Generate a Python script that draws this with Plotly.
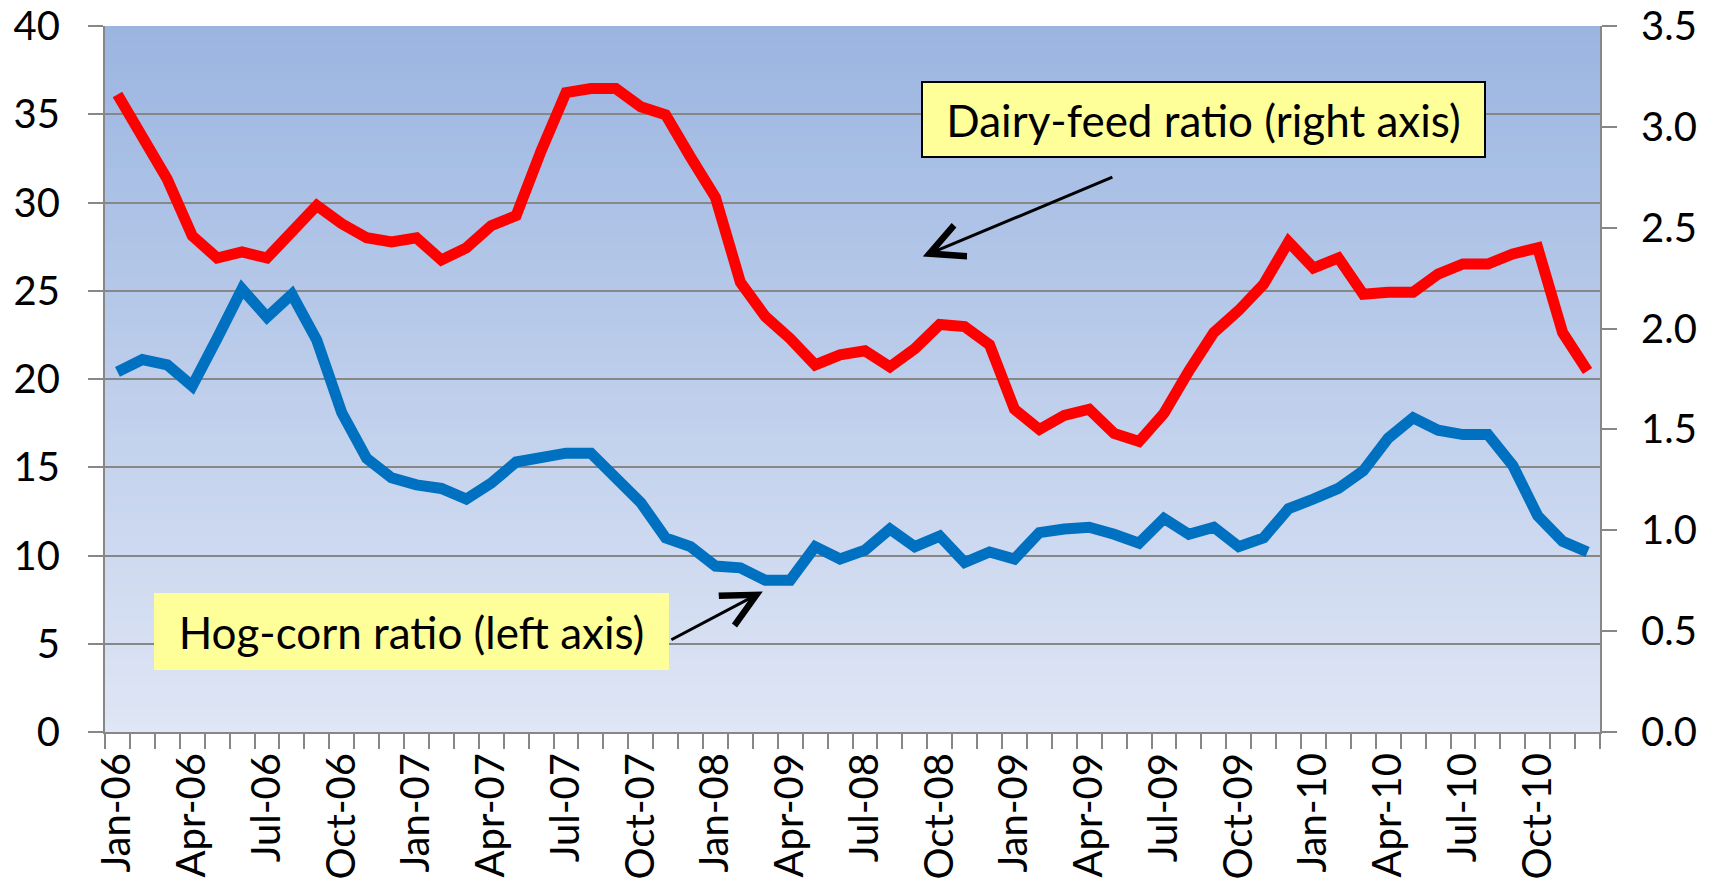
import plotly.graph_objects as go

months = [f"{m}-{y:02d}" for y in range(6, 11) for m in
          ["Jan", "Feb", "Mar", "Apr", "May", "Jun", "Jul", "Aug", "Sep", "Oct", "Nov", "Dec"]]

hog_corn = [20.4, 21.1, 20.8, 19.6, 22.3, 25.1, 23.5, 24.8, 22.2, 18.1, 15.5, 14.4,
            14.0, 13.8, 13.2, 14.1, 15.3, 15.55, 15.8, 15.8, 14.4, 13.0, 11.0, 10.5,
            9.4, 9.3, 8.6, 8.6, 10.5, 9.8, 10.3, 11.5, 10.5, 11.1, 9.6, 10.2,
            9.8, 11.3, 11.5, 11.6, 11.2, 10.7, 12.1, 11.2, 11.6, 10.5, 11.0, 12.65,
            13.2, 13.8, 14.8, 16.65, 17.8, 17.1, 16.85, 16.85, 15.1, 12.25, 10.8, 10.2]

dairy_feed = [3.16, 2.94, 2.74, 2.46, 2.35, 2.38, 2.35, 2.48, 2.61, 2.52, 2.45, 2.43,
              2.45, 2.34, 2.40, 2.51, 2.56, 2.88, 3.17, 3.19, 3.19, 3.10, 3.06, 2.85,
              2.65, 2.23, 2.06, 1.95, 1.82, 1.87, 1.89, 1.81, 1.90, 2.02, 2.01, 1.92,
              1.60, 1.50, 1.57, 1.60, 1.48, 1.44, 1.58, 1.79, 1.98, 2.09, 2.22, 2.43,
              2.30, 2.35, 2.17, 2.18, 2.18, 2.27, 2.32, 2.32, 2.37, 2.40, 1.98, 1.79]

tick_labels = ["Jan-06", "Apr-06", "Jul-06", "Oct-06", "Jan-07", "Apr-07", "Jul-07",
               "Oct-07", "Jan-08", "Apr-09", "Jul-08", "Oct-08", "Jan-09", "Apr-09",
               "Jul-09", "Oct-09", "Jan-10", "Apr-10", "Jul-10", "Oct-10"]

left_ticks = [0, 5, 10, 15, 20, 25, 30, 35, 40]
right_ticks = [0.0, 0.5, 1.0, 1.5, 2.0, 2.5, 3.0, 3.5]

x = list(range(len(months)))
tick_pos = list(range(0, len(months), 3))

FONT = "Lato, 'Open Sans', sans-serif"
GRAY = "#878787"

fig = go.Figure()
fig.add_trace(go.Scatter(x=x, y=hog_corn, mode="lines", name="Hog-corn ratio",
                         line=dict(color="#0070C0", width=11), yaxis="y"))
fig.add_trace(go.Scatter(x=x, y=dairy_feed, mode="lines", name="Dairy-feed ratio",
                         line=dict(color="#FF0000", width=11), yaxis="y2"))

# vertical gradient background
shapes = []
n = 90
top = (155, 181, 225)
bot = (223, 230, 245)
for k in range(n):
    t = (k + 0.5) / n
    c = tuple(round(top[j] + (bot[j] - top[j]) * t) for j in range(3))
    shapes.append(dict(type="rect", xref="paper", yref="paper", x0=0, x1=1,
                       y0=max(0, 1 - (k + 1) / n - 0.002), y1=1 - k / n,
                       fillcolor=f"rgb{c}", line=dict(width=0), layer="below"))

fig.update_layout(
    width=1717, height=895,
    margin=dict(l=105, r=117, t=26, b=163, autoexpand=False),
    paper_bgcolor="white", plot_bgcolor="white",
    showlegend=False,
    shapes=shapes,
    font=dict(family=FONT, size=40, color="black"),
    xaxis=dict(range=[-0.5, len(months) - 0.5], tickmode="array", tickvals=tick_pos,
               ticktext=tick_labels, tickangle=-90, ticks="", showgrid=False,
               showline=True, linecolor=GRAY, linewidth=2, zeroline=False,
               automargin=False, ticklabelstandoff=3, tickfont=dict(size=40),
               ticklabeloverflow="allow",
               minor=dict(tickmode="linear", tick0=-0.5, dtick=1, ticks="outside",
                          ticklen=15, tickcolor=GRAY, tickwidth=2, showgrid=False)),
    yaxis=dict(range=[0, 40], tickmode="array", tickvals=left_ticks, ticks="outside",
               ticklen=15, tickcolor=GRAY, tickwidth=2, showline=True, linecolor=GRAY,
               linewidth=2, showgrid=True, gridcolor=GRAY, gridwidth=2, zeroline=False,
               automargin=False, ticklabelstandoff=20, tickfont=dict(size=40),
               ticklabeloverflow="allow"),
    yaxis2=dict(range=[0, 3.5], tickmode="array", tickvals=right_ticks, tickformat=".1f",
                overlaying="y", side="right", ticks="outside", ticklen=15, tickcolor=GRAY,
                tickwidth=2, showline=True, linecolor=GRAY, linewidth=2, showgrid=False,
                zeroline=False, automargin=False, ticklabelstandoff=16,
                tickfont=dict(size=40), ticklabeloverflow="allow"),
)

fig.add_annotation(x=43.6, y=34.73, xref="x", yref="y", text="Dairy-feed ratio (right axis)",
                   showarrow=False, font=dict(family=FONT, size=44, color="black"),
                   bgcolor="#FFFF99", bordercolor="black", borderwidth=2, borderpad=0,
                   width=561, height=73, xanchor="center", yanchor="middle")
fig.add_annotation(x=11.8, y=5.72, xref="x", yref="y", text="Hog-corn ratio (left axis)",
                   showarrow=False, font=dict(family=FONT, size=44, color="black"),
                   bgcolor="#FFFF99", borderwidth=0, borderpad=0,
                   width=515, height=77, xanchor="center", yanchor="middle")

# arrows
fig.add_annotation(x=32.32, y=26.94, ax=39.99, ay=31.47, xref="x", yref="y",
                   axref="x", ayref="y", text="", showarrow=True, arrowhead=5,
                   arrowsize=2.2, arrowwidth=3, arrowcolor="black", standoff=0)
fig.add_annotation(x=25.90, y=7.96, ax=22.17, ay=5.18, xref="x", yref="y",
                   axref="x", ayref="y", text="", showarrow=True, arrowhead=5,
                   arrowsize=2.2, arrowwidth=3, arrowcolor="black", standoff=0)

# remove the default 8px page margin so the figure fills the window exactly
fig.write_html("out.html",
               config={"displayModeBar": False},
               post_script="document.body.style.margin='0';"
                           "document.body.style.overflow='hidden';")
